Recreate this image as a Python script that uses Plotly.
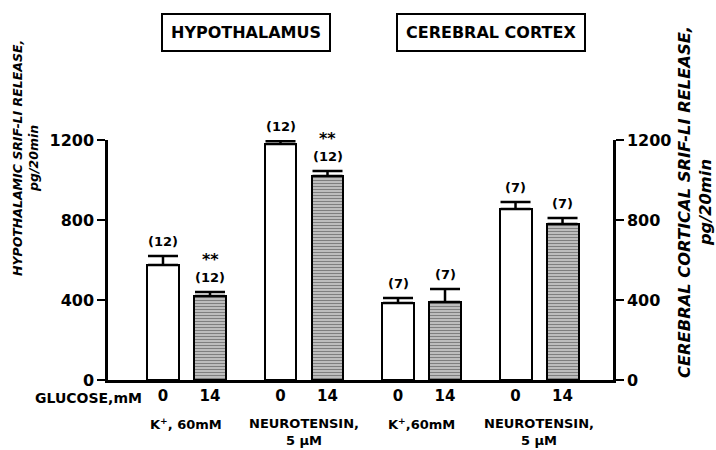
import plotly.graph_objects as go

# ---- data ----
positions = [0, 1, 2.5, 3.5, 5, 6, 7.5, 8.5]
glucose_labels = ["0", "14", "0", "14", "0", "14", "0", "14"]
means = [575, 420, 1180, 1020, 385, 390, 855, 780]
sem = [45, 20, 15, 25, 25, 65, 35, 30]
n_labels = ["(12)", "(12)", "(12)", "(12)", "(7)", "(7)", "(7)", "(7)"]
signif = ["", "**", "", "**", "", "", "", ""]
patterns = ["", "-", "", "-", "", "-", "", "-"]
group_labels = ["K<sup>+</sup>, 60mM", "NEUROTENSIN,<br>5 μM", "K<sup>+</sup>,60mM", "NEUROTENSIN,<br>5 μM"]
region_labels = ["HYPOTHALAMUS", "CEREBRAL CORTEX"]
y_ticks = [0, 400, 800, 1200]

FONT = "DejaVu Sans"

fig = go.Figure()
fig.add_trace(go.Bar(
    x=positions, y=means, width=0.68,
    marker=dict(color="white", line=dict(color="black", width=2),
                pattern=dict(shape=patterns, fgcolor="black", bgcolor="white",
                             size=3, solidity=0.68)),
    error_y=dict(type="data", array=sem, arrayminus=[0] * len(sem), symmetric=False,
                 color="black", thickness=2.5, width=15),
    showlegend=False, hoverinfo="skip",
))
fig.add_trace(go.Scatter(x=positions, y=means, yaxis="y2", mode="markers",
                         marker=dict(opacity=0), showlegend=False, hoverinfo="skip"))

ann = []
for x, m, s, n, sg in zip(positions, means, sem, n_labels, signif):
    ann.append(dict(x=x, y=m + s, text=f"<b>{n}</b>", showarrow=False, yanchor="middle",
                    xanchor="center", yshift=15, font=dict(family=FONT, size=13, color="black")))
    if sg:
        ann.append(dict(x=x, y=m + s, text=f"<b>{sg}</b>", showarrow=False, yanchor="middle",
                        xanchor="center", yshift=33, font=dict(family=FONT, size=16, color="black")))

for i, g in enumerate(group_labels):
    cx = (positions[2 * i] + positions[2 * i + 1]) / 2
    ann.append(dict(x=cx, y=0, yref="paper", text=f"<b>{g}</b>", showarrow=False,
                    xanchor="center", yanchor="top", yshift=-34,
                    font=dict(family=FONT, size=13, color="black")))

ann.append(dict(x=-0.4, y=0, yref="paper", text="<b>GLUCOSE,mM</b>", showarrow=False,
                xanchor="right", yanchor="middle", yshift=-18,
                font=dict(family=FONT, size=14, color="black")))

box_x = [0.273, 0.758]
for bx, t in zip(box_x, region_labels):
    ann.append(dict(x=bx, y=1.45, xref="paper", yref="paper", text=f"<b>{t}</b>",
                    xanchor="center", yanchor="middle",
                    showarrow=False, bordercolor="black", borderwidth=2, borderpad=8,
                    font=dict(family=FONT, size=16, color="black")))

ann.append(dict(x=0, y=0.5, xref="paper", yref="paper", xshift=-83, yshift=102,
                xanchor="center", yanchor="middle",
                text="<b><i>HYPOTHALAMIC SRIF-LI RELEASE,<br>pg/20min</i></b>",
                textangle=-90, showarrow=False,
                font=dict(family=FONT, size=12.5, color="black")))
ann.append(dict(x=1, y=0.5, xref="paper", yref="paper", xshift=82, yshift=58,
                xanchor="center", yanchor="middle",
                text="<b><i>CEREBRAL CORTICAL SRIF-LI RELEASE,<br>pg/20min</i></b>",
                textangle=-90, showarrow=False,
                font=dict(family=FONT, size=16.3, color="black")))

yax = dict(range=[0, 1200], tickvals=y_ticks, ticks="outside", ticklen=8, tickwidth=2,
           tickcolor="black", showline=True, linecolor="black", linewidth=2.5,
           showgrid=False, zeroline=False,
           tickfont=dict(family=FONT, size=16, color="black", weight="bold"))

fig.update_layout(
    width=716, height=450,
    margin=dict(l=108, r=103, t=140, b=70),
    paper_bgcolor="white", plot_bgcolor="white",
    bargap=0,
    xaxis=dict(range=[-1.17, 9.574], tickvals=positions, ticktext=glucose_labels,
               ticks="", showline=True, linecolor="black", linewidth=2.5,
               showgrid=False, zeroline=False,
               tickfont=dict(family=FONT, size=15, color="black", weight="bold")),
    yaxis=yax,
    yaxis2=dict(yax, overlaying="y", side="right"),
    annotations=ann,
)

fig.write_html("out.html", config={"displayModeBar": False},
               post_script="document.body.style.margin='0px';")
